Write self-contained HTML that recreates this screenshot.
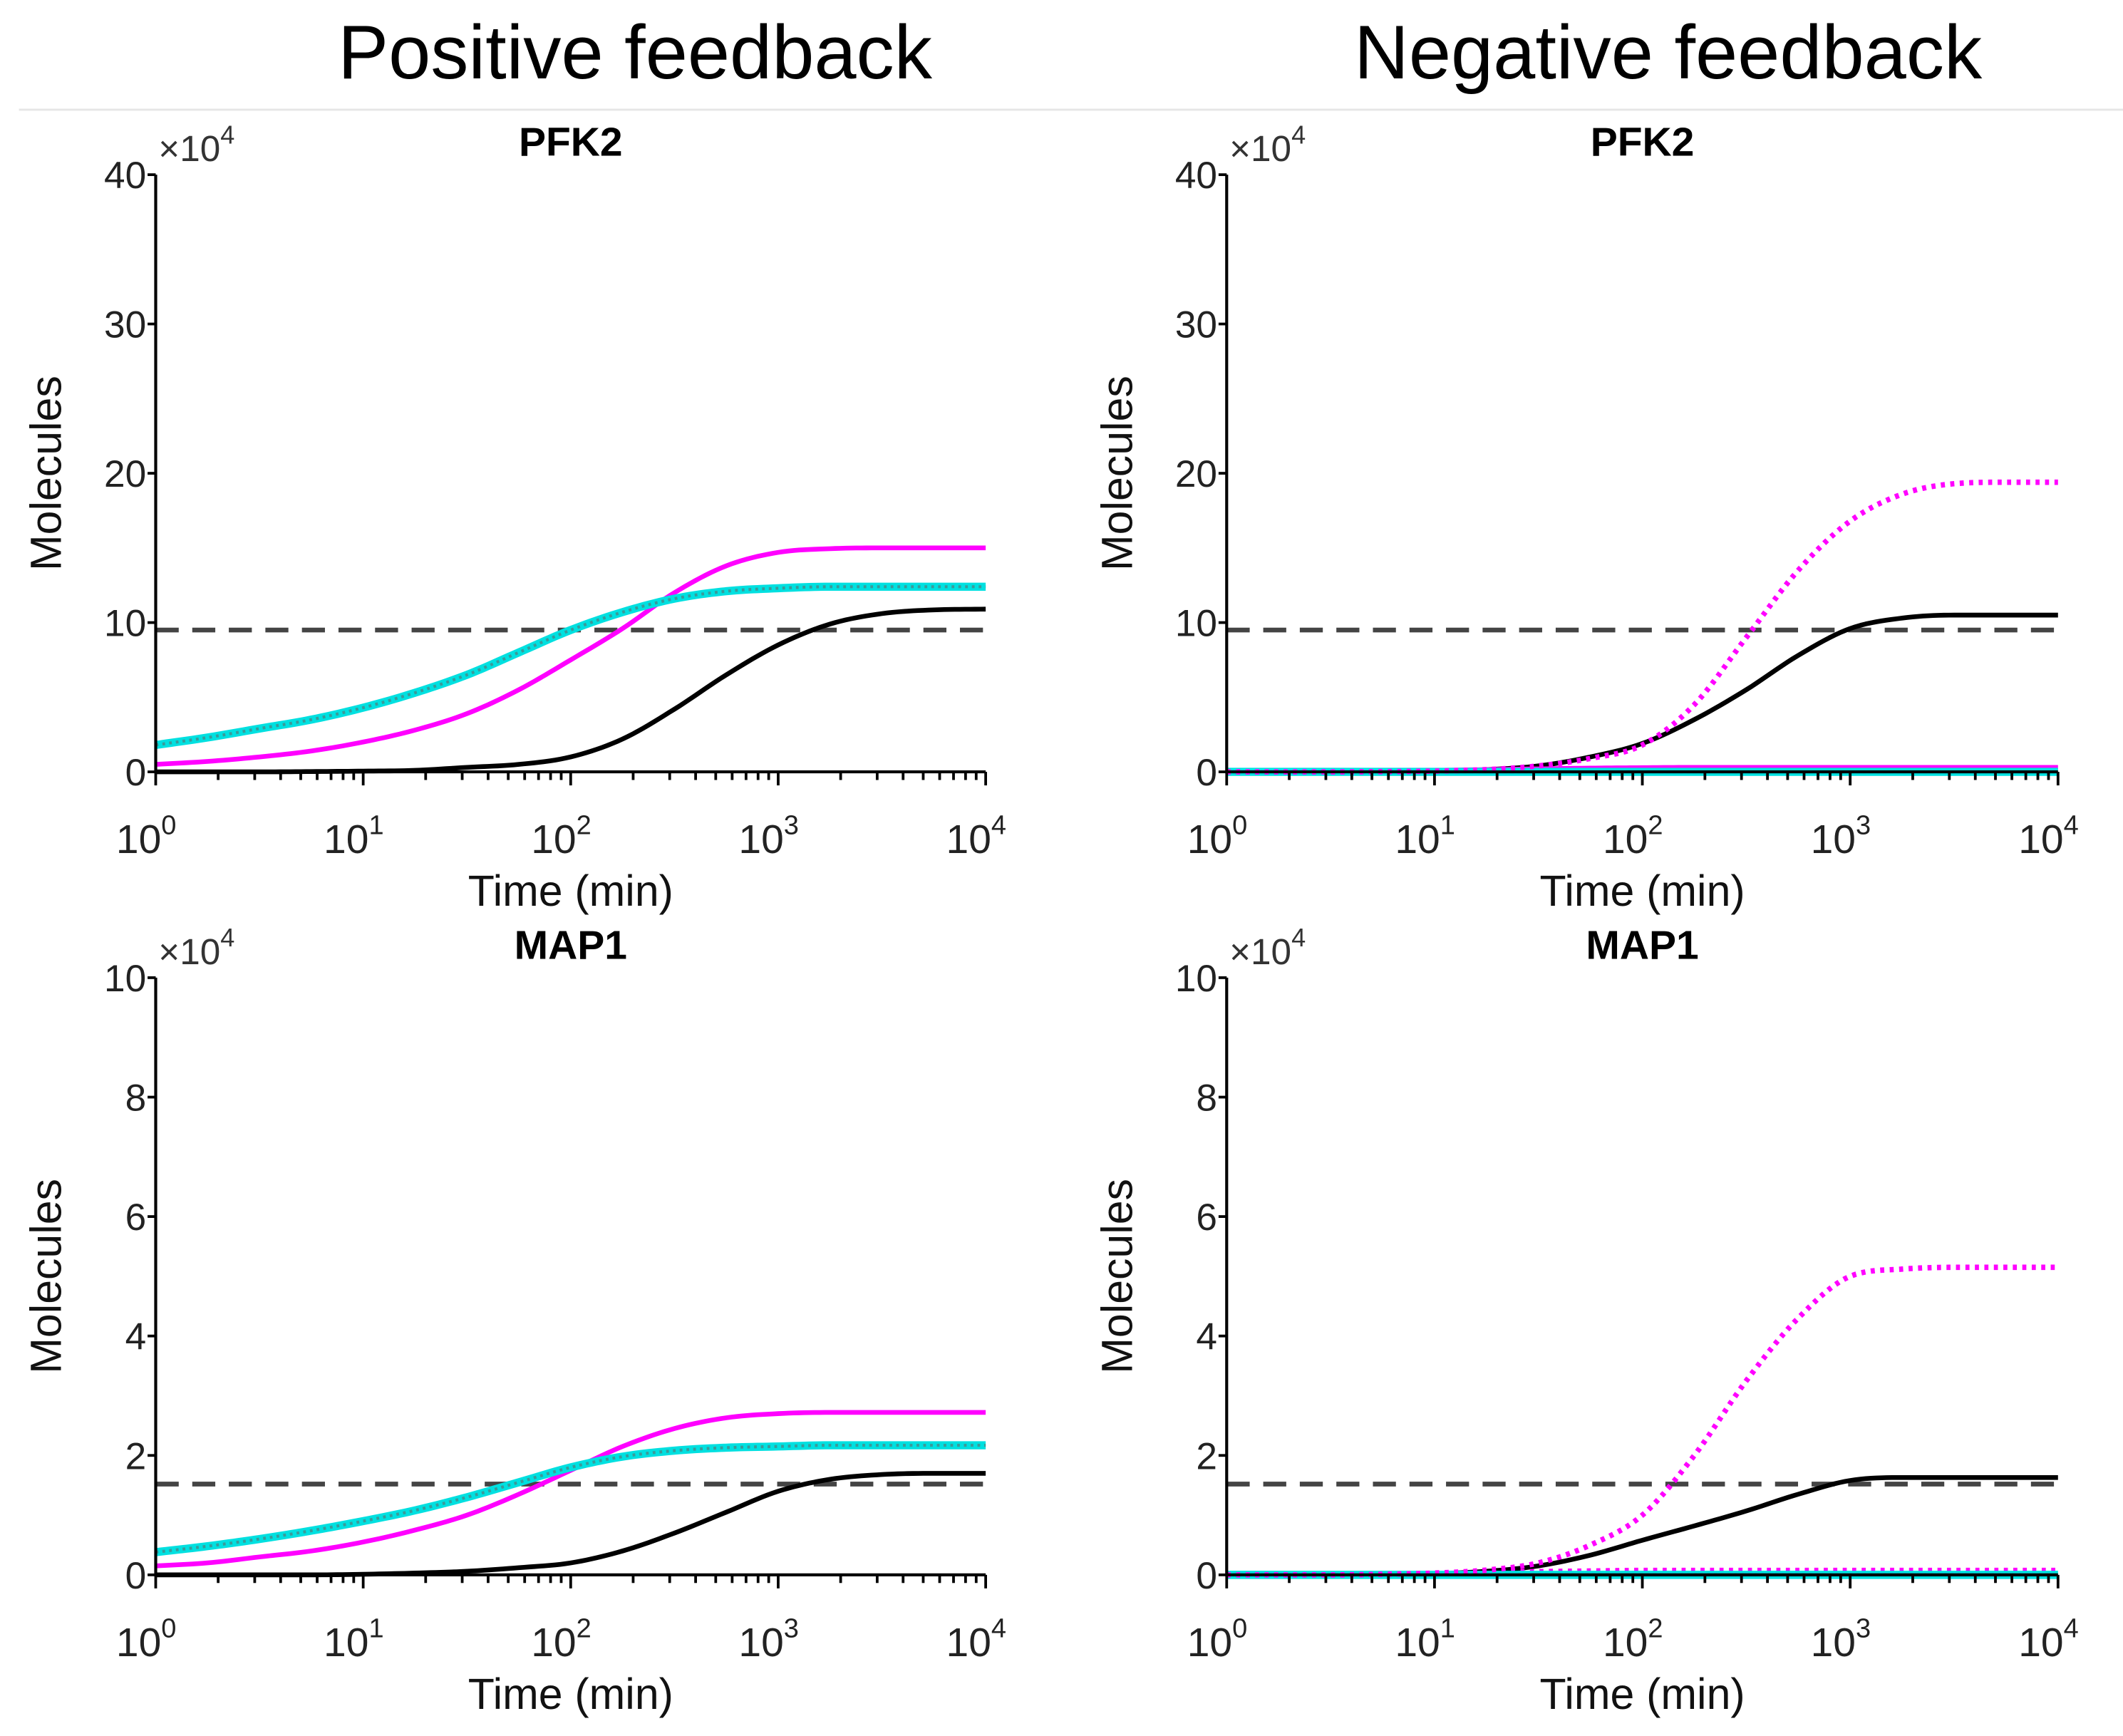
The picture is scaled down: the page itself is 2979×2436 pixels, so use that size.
<!DOCTYPE html>
<html><head><meta charset="utf-8"><style>
html,body{margin:0;padding:0;background:#fff;}
svg{display:block;font-family:"Liberation Sans",Arial,sans-serif;}
</style></head><body>
<svg id="fig" width="2979" height="2436" viewBox="0 0 1568 1282" preserveAspectRatio="none" xmlns="http://www.w3.org/2000/svg">
<text x="469" y="58" font-size="56" text-anchor="middle" fill="#000">Positive feedback</text>
<text x="1232" y="58" font-size="56" text-anchor="middle" fill="#000">Negative feedback</text>
<line x1="14" y1="81" x2="1568" y2="81" stroke="#e6e6e6" stroke-width="1.5"/>
<g id="plots"></g>
</svg>
<script>
const logT = [0,0.25,0.5,0.75,1,1.25,1.5,1.75,2,2.25,2.5,2.75,3,3.25,3.5,3.75,4];
const xTickLabels = ["0","1","2","3","4"];
// Positive feedback PFK2 (x10^4)
const posPfkMagenta = [0.5,0.7,1.0,1.4,2.0,2.8,3.9,5.5,7.5,9.6,12.0,13.8,14.7,14.95,15,15,15];
const posPfkCyan    = [1.8,2.3,2.9,3.5,4.3,5.3,6.5,8.0,9.5,10.7,11.6,12.1,12.3,12.4,12.4,12.4,12.4];
const posPfkBlack   = [0,0,0,0.02,0.05,0.1,0.3,0.5,1.0,2.2,4.2,6.5,8.5,9.9,10.6,10.85,10.9];
const posPfkDashed  = 9.5;
// Negative feedback PFK2
const negPfkMagenta = [0,0,0,0.02,0.05,0.15,0.4,0.9,1.8,4.5,9.0,13.5,16.8,18.6,19.3,19.4,19.4];
const negPfkBlack   = [0,0,0,0.02,0.05,0.15,0.4,1.0,1.9,3.5,5.5,7.8,9.6,10.3,10.5,10.5,10.5];
const negPfkMagentaLow = [0,0,0.02,0.05,0.1,0.15,0.2,0.25,0.28,0.3,0.3,0.3,0.3,0.3,0.3,0.3,0.3];
const negPfkCyan    = [0,0,0,0,0,0,0,0,0,0,0,0,0,0,0,0,0];
const negPfkDashed  = 9.5;
// Positive feedback MAP1
const posMapMagenta = [0.15,0.2,0.3,0.4,0.55,0.75,1.0,1.35,1.75,2.15,2.45,2.63,2.7,2.72,2.72,2.72,2.72];
const posMapCyan    = [0.38,0.48,0.6,0.74,0.9,1.08,1.3,1.55,1.8,1.98,2.08,2.13,2.15,2.17,2.17,2.17,2.17];
const posMapBlack   = [0,0,0,0,0.01,0.03,0.06,0.12,0.2,0.4,0.7,1.05,1.4,1.6,1.68,1.7,1.7];
const posMapDashed  = 1.52;
// Negative feedback MAP1
const negMapMagenta = [0,0,0,0.01,0.03,0.08,0.2,0.5,1.0,2.0,3.25,4.3,5.0,5.12,5.15,5.15,5.15];
const negMapBlack   = [0,0,0,0.01,0.02,0.06,0.15,0.33,0.58,0.82,1.07,1.35,1.58,1.63,1.63,1.63,1.63];
const negMapMagentaLow = [0,0,0.01,0.02,0.03,0.05,0.06,0.07,0.08,0.08,0.08,0.08,0.08,0.08,0.08,0.08,0.08];
const negMapCyan    = [0,0,0,0,0,0,0,0,0,0,0,0,0,0,0,0,0];
const negMapDashed  = 1.52;
const pfkYTicks = [0,10,20,30,40];
const mapYTicks = [0,2,4,6,8,10];

const NS="http://www.w3.org/2000/svg";
const root=document.getElementById('plots');
function mk(tag,attrs,parent){const e=document.createElementNS(NS,tag);for(const k in attrs)e.setAttribute(k,attrs[k]);(parent||root).appendChild(e);return e;}

function smoothPath(xs,ys,sx,sy){
  const n=xs.length,d=[],m=[];
  for(let i=0;i<n-1;i++)d.push((ys[i+1]-ys[i])/(xs[i+1]-xs[i]));
  m[0]=d[0];m[n-1]=d[n-2];
  for(let i=1;i<n-1;i++){m[i]=(d[i-1]*d[i]<=0)?0:(d[i-1]+d[i])/2;}
  for(let i=0;i<n-1;i++){if(d[i]===0){m[i]=0;m[i+1]=0;continue;}const a=m[i]/d[i],b=m[i+1]/d[i],s=a*a+b*b;if(s>9){const t=3/Math.sqrt(s);m[i]=t*a*d[i];m[i+1]=t*b*d[i];}}
  let p='M'+sx(xs[0]).toFixed(2)+','+sy(ys[0]).toFixed(2);
  for(let i=0;i<n-1;i++){const h=xs[i+1]-xs[i];
    for(let k=1;k<=10;k++){const t=k/10,t2=t*t,t3=t2*t;
      const y=(2*t3-3*t2+1)*ys[i]+(t3-2*t2+t)*h*m[i]+(-2*t3+3*t2)*ys[i+1]+(t3-t2)*h*m[i+1];
      p+='L'+sx(xs[i]+t*h).toFixed(2)+','+sy(y).toFixed(2);}}
  return p;
}

function panel(name,x0,x1,yb,yt,ymax,yTicks,title,series,dashed){
  const g=mk('g',{});
  
  
  const sx=v=>x0+(x1-x0)*v/4;
  const sy=v=>yb-(yb-yt)*v/ymax;
  const dl=mk('line',{x1:x0,x2:x1,y1:sy(dashed),y2:sy(dashed),stroke:'#444','stroke-width':3.5,'stroke-dasharray':'17 10'},g);
  
  
  for(const s of series){
    const d=smoothPath(logT,s.v,sx,sy);
    if(s.type==='cyan'){
      const a=mk('path',{d:d,fill:'none',stroke:'#00e0e0','stroke-width':6},g);
      
      
      mk('path',{d:d,fill:'none',stroke:'#3a9a9a','stroke-width':2.2,'stroke-dasharray':'2 3'},g);
    } else {
      const a=mk('path',{d:d,fill:'none',stroke:s.c,'stroke-width':s.w||3.5,'stroke-dasharray':s.dash||'none','stroke-linejoin':'round'},g);
      
      
    }
  }
  const ax=mk('path',{d:`M${x0},${yt}L${x0},${yb}L${x1},${yb}`,fill:'none',stroke:'#000','stroke-width':2.2},g);
  
  
  for(const t of yTicks){
    mk('line',{x1:x0-6,x2:x0,y1:sy(t),y2:sy(t),stroke:'#000','stroke-width':2},g);
    const tl=mk('text',{x:x0-7,y:sy(t)+10,'font-size':28,'text-anchor':'end',fill:'#222'},g);
    tl.textContent=t;
    
    
  }
  for(let dcd=0;dcd<4;dcd++){
    for(let k=2;k<=9;k++){const v=dcd+Math.log10(k);
      mk('line',{x1:sx(v),x2:sx(v),y1:yb,y2:yb+6,stroke:'#000','stroke-width':2},g);}
  }
  for(let i=0;i<xTickLabels.length;i++){
    mk('line',{x1:sx(i),x2:sx(i),y1:yb,y2:yb+10,stroke:'#000','stroke-width':2},g);
    const tl=mk('text',{x:sx(i)-7,y:yb+60,'font-size':30,'text-anchor':'middle',fill:'#222'},g);
    
    
    tl.appendChild(document.createTextNode('10'));
    const sp=mk('tspan',{dy:-14,'font-size':20},tl);sp.textContent=xTickLabels[i];
  }
  const xl=mk('text',{x:(x0+x1)/2,y:yb+99,'font-size':32,'text-anchor':'middle',fill:'#111'},g);
  xl.textContent='Time (min)';
  
  
  const yl=mk('text',{x:0,y:0,'font-size':32,'text-anchor':'middle',fill:'#111',transform:`translate(${x0-70},${(yb+yt)/2}) rotate(-90)`},g);
  yl.textContent='Molecules';
  
  
  const mult=mk('text',{x:x0+2,y:yt-10,'font-size':27,fill:'#333'},g);
  
  
  mult.appendChild(document.createTextNode('\u00d710'));
  const ms=mk('tspan',{dy:-13,'font-size':19},mult);ms.textContent='4';
  const tt=mk('text',{x:(x0+x1)/2,y:yt-14,'font-size':30,'font-weight':'bold','text-anchor':'middle',fill:'#000'},g);
  tt.textContent=title;
  
  
}

panel('pos-pfk2-panel',115,728,570,129,40,pfkYTicks,'PFK2',[
  {name:'black-curve',v:posPfkBlack,c:'#000'},
  {name:'magenta-curve',v:posPfkMagenta,c:'#ff00ff'},
  {name:'cyan-curve',v:posPfkCyan,type:'cyan'}],posPfkDashed);
panel('neg-pfk2-panel',906,1520,570,129,40,pfkYTicks,'PFK2',[
  {name:'black-curve',v:negPfkBlack,c:'#000'},
  {name:'magenta-low-curve',v:negPfkMagentaLow,c:'#ff00ff'},
  {name:'cyan-curve',v:negPfkCyan,type:'cyan'},
  {name:'magenta-dotted-curve',v:negPfkMagenta,c:'#ff00ff',w:4,dash:'3 4'}],negPfkDashed);
panel('pos-map1-panel',115,728,1163,722,10,mapYTicks,'MAP1',[
  {name:'black-curve',v:posMapBlack,c:'#000'},
  {name:'magenta-curve',v:posMapMagenta,c:'#ff00ff'},
  {name:'cyan-curve',v:posMapCyan,type:'cyan'}],posMapDashed);
panel('neg-map1-panel',906,1520,1163,722,10,mapYTicks,'MAP1',[
  {name:'black-curve',v:negMapBlack,c:'#000'},
  {name:'magenta-low-curve',v:negMapMagentaLow,c:'#ff00ff',dash:'3 4'},
  {name:'cyan-curve',v:negMapCyan,type:'cyan'},
  {name:'magenta-dotted-curve',v:negMapMagenta,c:'#ff00ff',w:4,dash:'3 4'}],negMapDashed);
</script>
</body></html>
